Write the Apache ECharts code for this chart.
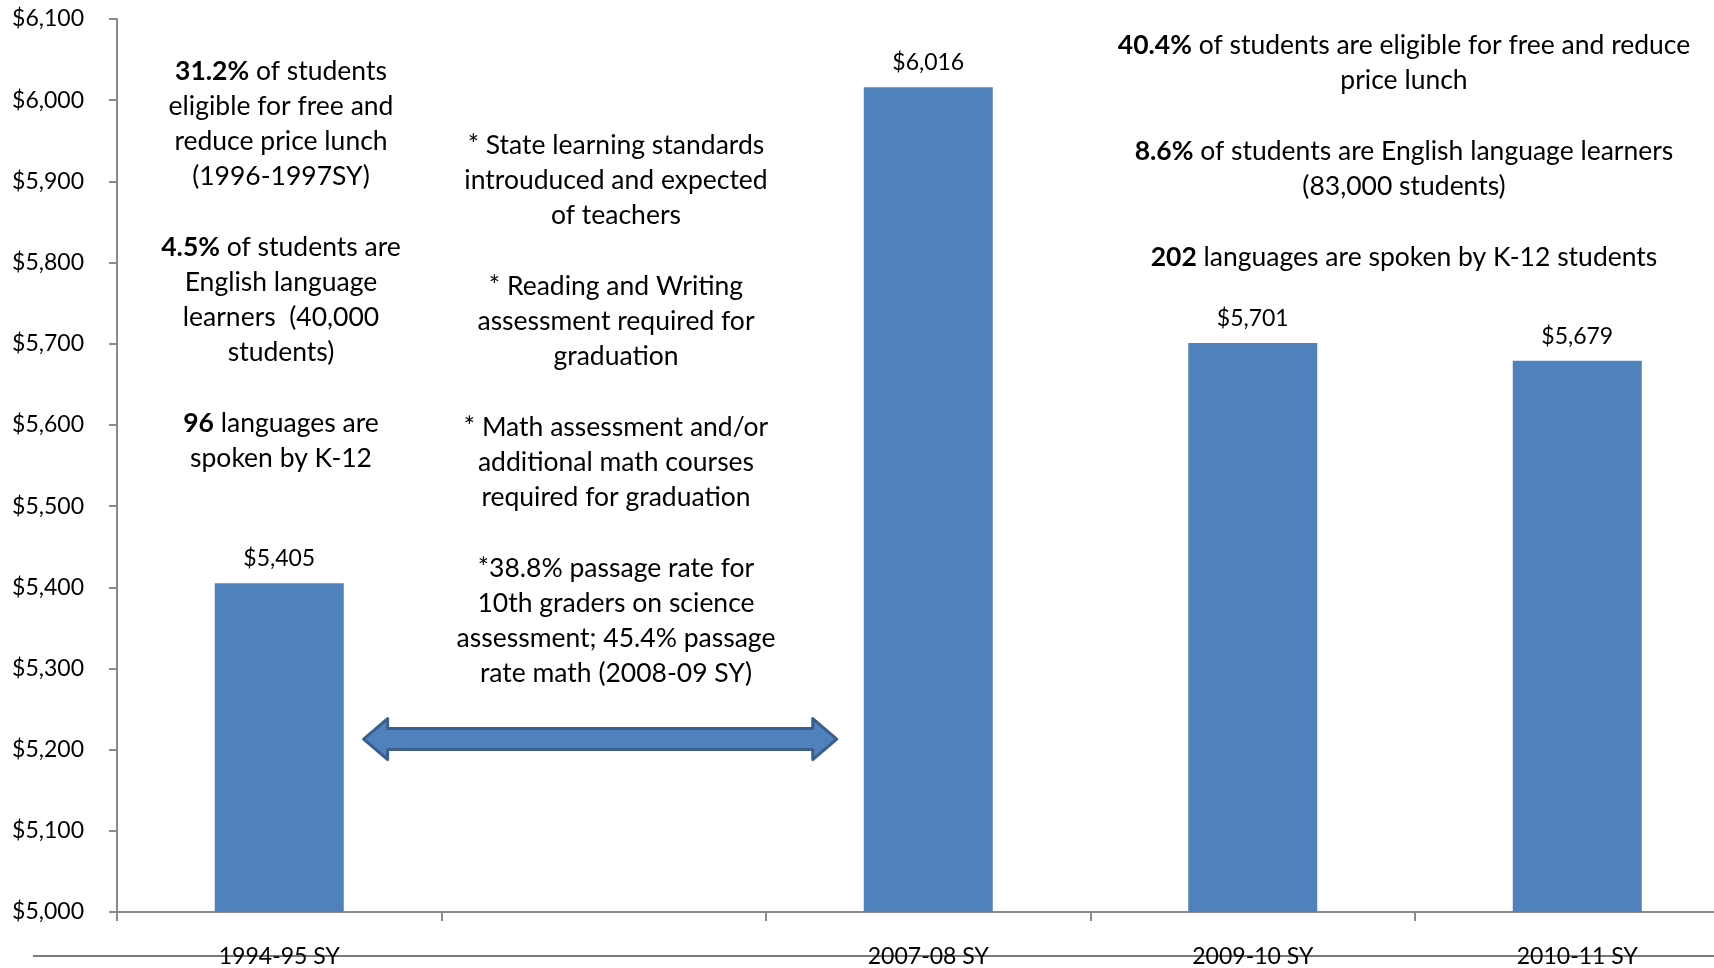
<!DOCTYPE html>
<html>
<head>
<meta charset="utf-8">
<script src="https://cdn.jsdelivr.net/npm/echarts@6/dist/echarts.min.js"></script>
<style>
html,body{margin:0;padding:0;background:#fff;overflow:hidden;width:1714px;height:968px;}
#chart{width:1740px;height:968px;}
</style>
</head>
<body>
<div id="chart"></div>
<script>
// ---- data ----
const categories = ['1994-95 SY', '', '2007-08 SY', '2009-10 SY', '2010-11 SY'];
const spending = [5405, null, 6016, 5701, 5679];
const yMin = 5000, yMax = 6100, yStep = 100;

const leftNotes = [
  '{b|31.2%} of students\neligible for free and\nreduce price lunch\n(1996-1997SY)',
  '{b|4.5%} of students are\nEnglish language\nlearners  (40,000\nstudents)',
  '{b|96} languages are\nspoken by K-12'
];
const middleNotes = [
  '* State learning standards\nintrouduced and expected\nof teachers',
  '* Reading and Writing\nassessment required for\ngraduation',
  '* Math assessment and/or\nadditional math courses\nrequired for graduation',
  '*38.8% passage rate for\n10th graders on science\nassessment; 45.4% passage\nrate math (2008-09 SY)'
];
const rightNotes = [
  '{b|40.4%} of students are eligible for free and reduce\nprice lunch',
  '{b|8.6%} of students are English language learners\n(83,000 students)',
  '{b|202} languages are spoken by K-12 students'
];

const FONT = 'Lato, "Open Sans", sans-serif';
const NOTE_SIZE = 26.5;
const chart = echarts.init(document.getElementById('chart'));

const option = {
  backgroundColor: '#ffffff',
  animation: false,
  textStyle: { fontFamily: FONT },
  grid: { left: 117, top: 19, bottom: 54, right: 0.5, containLabel: false },
  xAxis: {
    type: 'category',
    data: categories,
    axisLine: { lineStyle: { color: '#8a8a8a', width: 2 } },
    axisTick: { show: true, length: 9, lineStyle: { color: '#8a8a8a', width: 2 } },
    axisLabel: { color: '#000', fontSize: 23, fontFamily: FONT, margin: 33 }
  },
  yAxis: {
    type: 'value',
    min: yMin, max: yMax, interval: yStep,
    splitLine: { show: false },
    axisLine: { show: true, lineStyle: { color: '#8a8a8a', width: 2 } },
    axisTick: { show: true, length: 8, lineStyle: { color: '#8a8a8a', width: 2 } },
    axisLabel: {
      color: '#000', fontSize: 23, fontFamily: FONT, margin: 33,
      formatter: v => '$' + v.toLocaleString('en-US')
    }
  },
  series: [{
    type: 'bar',
    data: spending,
    barWidth: 129,
    itemStyle: { color: '#4F81BD' },
    label: {
      show: true, position: 'top', distance: 13,
      color: '#000', fontSize: 23, fontFamily: FONT,
      formatter: p => '$' + p.value.toLocaleString('en-US')
    }
  }]
};
chart.setOption(option);

function noteBlocks(texts, cx, tops) {
  return texts.map((t, i) => ({
    type: 'text',
    x: cx, y: tops[i],
    style: {
      text: t,
      fill: '#000',
      fontSize: NOTE_SIZE,
      fontFamily: FONT,
      align: 'center',
      verticalAlign: 'top',
      lineHeight: 35,
      rich: { b: { fontWeight: 'bold', fontSize: NOTE_SIZE, fontFamily: FONT, lineHeight: 35 } }
    }
  }));
}

// Arrow positioned relative to the axes
const c0 = chart.convertToPixel({ xAxisIndex: 0 }, 0);
const c1 = chart.convertToPixel({ xAxisIndex: 0 }, 1);
const cw = c1 - c0;
const x1 = c0 + 0.26 * cw;
const x2 = c0 + 1.718 * cw;
const yc = chart.convertToPixel({ yAxisIndex: 0 }, 5213);
const hh = 20.5, sh = 10.5, hl = 24;
const arrowPts = [
  [x1, yc], [x1 + hl, yc - hh], [x1 + hl, yc - sh], [x2 - hl, yc - sh], [x2 - hl, yc - hh],
  [x2, yc], [x2 - hl, yc + hh], [x2 - hl, yc + sh], [x1 + hl, yc + sh], [x1 + hl, yc + hh]
];

chart.setOption({
  graphic: [
    ...noteBlocks(leftNotes, 281, [53.5, 229.5, 405.5]),
    ...noteBlocks(middleNotes, 616, [127.5, 268.5, 409.5, 550.5]),
    ...noteBlocks(rightNotes, 1404, [27.5, 133.5, 239.5]),
    {
      type: 'polygon',
      shape: { points: arrowPts },
      style: { fill: '#4F81BD', stroke: '#3A5F8C', lineWidth: 3, lineJoin: 'round' },
      z: 10
    },
    {
      type: 'line',
      shape: { x1: 33, y1: 956, x2: 1740, y2: 956 },
      style: { stroke: '#7a7a7a', lineWidth: 2 },
      z: 0
    }
  ]
});
</script>
</body>
</html>
